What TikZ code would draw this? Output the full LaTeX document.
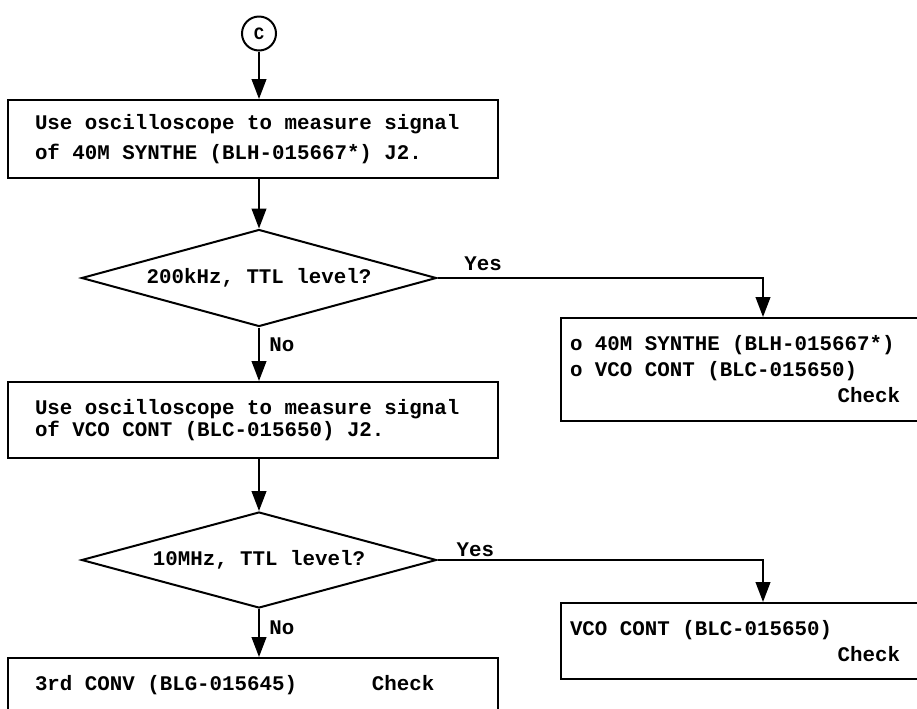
\documentclass[tikz,border=0pt]{standalone}
\usepackage{fontspec}
\setmonofont{Liberation Mono}
\usetikzlibrary{arrows.meta,positioning,shapes.geometric}
\DeclareRobustCommand\flowfont{\ttfamily\bfseries\fontsize{15.6}{19.5}\selectfont}

\begin{document}
\begin{tikzpicture}[
  x=0.75pt, y=-0.75pt,
  font=\flowfont,
  line width=1.5pt,
  every node/.style={execute at begin node={\spaceskip=9.36pt\xspaceskip=9.36pt\relax}},
  box/.style={draw,rectangle,minimum width=367.5pt,text width=327pt,align=left,inner sep=0pt},
  rbox/.style={draw,rectangle,anchor=west,minimum width=274.5pt,text width=261pt,align=left,inner xsep=6.75pt,inner ysep=0pt},
  dec/.style={draw,diamond,aspect=3.66,minimum width=266.25pt,minimum height=72.75pt,inner sep=0pt},
  conn/.style={draw,circle,minimum size=25.5pt,inner sep=0pt,font=\ttfamily\bfseries\fontsize{13}{13}\selectfont},
  arr/.style={-{Triangle[length=15pt,width=11pt]}},
  lbl/.style={inner sep=1pt}
]
\useasboundingbox (0,0) rectangle (917,708);
\clip (0,0) rectangle (917,708);

% main column
\node[conn] (c) at (259,33.5) {C};
\node[box,minimum height=58.5pt] (b1) at (253,139)
  {Use oscilloscope to measure signal\\[3pt]of 40M SYNTHE (BLH-015667*) J2.};
\node[dec] (d1) at (259,278) {200kHz, TTL level?};
\node[box,minimum height=57pt] (b2) at (253,420)
  {Use oscilloscope to measure signal\\[-3pt]of VCO CONT (BLC-015650) J2.};
\node[dec,minimum height=72pt] (d2) at (259,560) {10MHz, TTL level?};
\node[box,minimum height=40pt] (b3) at (253,684.7)
  {3rd CONV (BLG-015645)\hspace{3.6em}Check};

% right column
\node[rbox,minimum height=77.25pt] (b4) at (560,369.5)
  {o 40M SYNTHE (BLH-015667*)\\o VCO CONT (BLC-015650)\\\hspace*{\fill}Check\rule{13.5pt}{0pt}};
\node[rbox,minimum height=57pt] (b5) at (560,641)
  {VCO CONT (BLC-015650)\\\hspace*{\fill}Check\rule{13.5pt}{0pt}};
\coordinate (t1) at (763,278);
\coordinate (t2) at (763,560);

\draw[arr] (c) -- (c |- b1.north);
\draw[arr] (b1.south -| d1.north) -- (d1.north);
\draw[arr] (d1.south) -- node[lbl,right=6pt,pos=0.33]{No} (d1.south |- b2.north);
\draw[arr] (b2.south -| d2.north) -- (d2.north);
\draw[arr] (d2.south) -- node[lbl,right=6pt,pos=0.4]{No} (d2.south |- b3.north);
\draw[arr] (d1.east) -- node[lbl,above=4pt,pos=0.14]{Yes} (t1) -- (t1 |- b4.north);
\draw[arr] (d2.east) -- node[lbl,above=1pt,pos=0.116]{Yes} (t2) -- (t2 |- b5.north);
\end{tikzpicture}
\end{document}
